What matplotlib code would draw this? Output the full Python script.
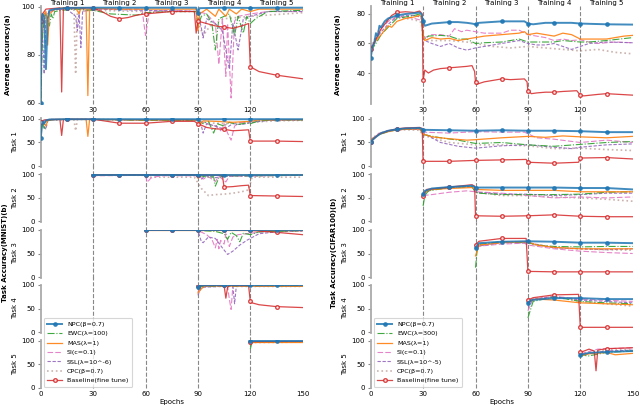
import matplotlib
matplotlib.use('Agg')
import matplotlib.pyplot as plt
import matplotlib.transforms as mtransforms
import numpy as np

# ---------------- MNIST (left column) ----------------
# each list: (epoch, accuracy)
mn_avg_npc = [(0,60),(0.5,93),(1,97),(2,96),(3,74),(4,95),(5,98.5),(8,99),(15,99.5),(30,99.6),(45,99.6),(60,99.6),(75,99.6),(89,99.6),(90,97.5),(91,99.4),(105,99.6),(120,99.5),(135,99.6),(150,99.6)]
mn_avg_ewc = [(0,57),(1,88),(2,94),(3,97),(5,92),(6,97),(7,95),(8,98),(12,98.5),(20,99),(30,98.5),(40,97),(55,96.5),(60,97.5),(75,98),(89,98),(90,92),(92,96),(95,97),(98,93),(100,82),(102,95),(108,97),(111,88),(113,96),(116,89),(118,96),(120,93),(123,95),(130,98),(150,98.5)]
mn_avg_mas = [(0,80),(1,95),(2,97),(3,98),(4,84),(5,97),(8,99),(12,99.5),(20,99.5),(22,97),(23,99.5),(26,99),(27,63),(28,99),(30,99.3),(45,99),(60,99),(75,99),(89,99),(90,90),(91,97),(95,99),(100,96),(102,99),(106,96),(108,99),(112,97),(115,99),(120,98),(125,99),(150,99)]
mn_avg_si = [(0,70),(1,93),(2,97),(5,98),(10,99),(30,99),(58,99),(60,88),(62,97),(64,98),(75,98.5),(90,98),(95,97),(100,93),(102,76),(104,95),(106,71),(107,93),(109,62),(111,94),(113,96),(120,97),(130,98),(150,98)]
mn_avg_ssl = [(0,75),(1,90),(2,72),(3,96),(5,98),(10,99),(15,99),(20,96),(21,90),(22,97),(23,83),(24,98),(30,99),(60,98.5),(90,98),(92,91),(93,87),(95,95),(100,93),(104,90),(108,74),(110,93),(113,82),(116,95),(120,96),(130,98),(150,98)]
mn_avg_cpc = [(0,80),(2,96),(5,98),(10,99),(19,99),(20,72),(21,98),(30,98.5),(60,98),(89,98),(91,92),(93,88),(97,92),(105,95),(120,96),(150,97.5)]
mn_avg_base = [(0,94),(1,97),(3,99),(11,99.5),(12,64.5),(13,99.5),(15,99.5),(30,99.5),(35,98),(40,96),(45,95),(50,95.5),(55,96.5),(60,97),(75,98),(88,98),(89,89),(90,94),(95,93),(100,92),(105,91.5),(110,91),(115,92),(119,93),(120,75),(125,73),(135,71.5),(150,70)]

mn_t1_npc = [(0,59),(1,95),(2,90),(3,97),(5,99),(15,99.5),(30,99.5),(45,99.5),(60,99.5),(75,99.5),(90,99.5),(105,99.5),(120,99.5),(135,99.5),(150,99.5)]
mn_t1_ewc = [(0,70),(1,93),(2,80),(3,96),(5,97),(10,99),(30,99),(60,97),(90,97),(93,90),(96,95),(99,70),(101,90),(105,85),(108,93),(113,88),(118,92),(120,90),(125,96),(135,98),(150,98)]
mn_t1_mas = [(0,75),(1,95),(3,85),(4,97),(6,99),(26,99),(27,63),(28,99),(30,99),(60,98),(90,98),(91,88),(93,96),(100,95),(110,93),(120,95),(125,98),(150,98.5)]
mn_t1_si = [(0,80),(2,96),(5,99),(30,99),(60,97.5),(90,97),(95,90),(100,85),(103,75),(105,90),(107,70),(109,55),(111,85),(114,92),(120,94),(130,97),(150,98)]
mn_t1_ssl = [(0,80),(1,92),(3,78),(4,96),(6,99),(30,99),(60,98),(90,97.5),(92,85),(93,70),(95,90),(100,85),(105,78),(110,90),(115,88),(120,92),(130,97),(150,98)]
mn_t1_cpc = [(0,85),(3,97),(19,99),(20,75),(21,99),(30,99),(60,98),(90,97),(95,92),(105,90),(120,93),(135,96),(150,97)]
mn_t1_base = [(0,93),(2,98),(11,99),(12,65),(13,99),(15,99.5),(30,99.5),(45,91),(60,91),(75,95),(88,95),(90,90),(95,82),(100,79),(105,78),(110,75),(115,76),(119,77),(120,53),(135,53),(150,52)]

mn_t2_npc = [(30,99.5),(45,99.5),(60,99.5),(75,99.5),(90,99.5),(105,99.5),(120,99.5),(135,99.5),(150,99.5)]
mn_t2_ewc = [(30,99),(60,99),(90,98.5),(95,94),(99,95),(100,75),(102,93),(105,97),(120,97),(150,98)]
mn_t2_mas = [(30,99),(60,99),(89,99),(90,92),(92,98),(150,99)]
mn_t2_si = [(30,92),(31,97),(60,98),(61,83),(63,92),(66,95),(70,97),(90,97),(93,90),(96,95),(100,85),(102,96),(106,84),(108,96),(150,98)]
mn_t2_ssl = [(30,99),(90,98.5),(92,90),(94,97),(100,93),(105,96),(150,98.5)]
mn_t2_cpc = [(30,99),(60,98),(62,94),(75,94),(88,94),(92,70),(96,55),(100,57),(105,58),(110,60),(115,63),(119,67),(121,94),(135,94),(150,94)]
mn_t2_base = [(30,99),(45,99),(60,99),(75,99),(90,99),(104,98),(105,73),(110,74),(115,76),(119,77),(120,55),(135,54),(150,53)]

mn_t3_npc = [(60,99.5),(75,99.5),(90,99.5),(105,99.5),(120,99.5),(135,99.5),(150,99.5)]
mn_t3_ewc = [(60,99),(90,99),(100,97),(105,92),(107,80),(109,95),(112,88),(114,75),(116,93),(120,90),(125,96),(150,98.5)]
mn_t3_mas = [(60,99),(90,99),(150,99)]
mn_t3_si = [(60,99),(90,99),(95,90),(98,80),(100,62),(101,80),(102,60),(103,78),(105,70),(106,92),(108,65),(110,85),(113,90),(120,93),(130,97),(150,98)]
mn_t3_ssl = [(60,99),(90,99),(92,75),(93,73),(96,85),(100,82),(104,62),(107,48),(110,55),(114,68),(118,78),(120,82),(125,92),(135,96),(150,98)]
mn_t3_cpc = [(60,99),(150,99)]
mn_t3_base = [(60,99.5),(75,99.5),(90,99.5),(105,99.3),(120,99),(135,95),(150,90)]

mn_t4_npc = [(90,95),(91,99),(105,99.5),(120,99.5),(135,99.5),(150,99.5)]
mn_t4_ewc = [(90,90),(92,97),(120,98),(150,98)]
mn_t4_mas = [(90,83),(92,92),(94,98),(150,97)]
mn_t4_si = [(90,85),(92,97),(107,97),(108,70),(109,48),(110,97),(150,98)]
mn_t4_ssl = [(90,78),(92,95),(110,98),(111,60),(112,98),(150,98)]
mn_t4_cpc = [(90,90),(93,97),(150,97)]
mn_t4_base = [(90,97),(92,99),(105,99),(106,72),(107,95),(108,99),(119,99),(120,65),(121,62),(125,58),(135,54),(150,52)]

mn_t5_npc = [(120,99.5),(135,99.5),(150,99.5)]
mn_t5_ewc = [(120,82),(121,97),(150,98)]
mn_t5_mas = [(120,97),(150,97)]
mn_t5_si = [(120,98),(150,98.5)]
mn_t5_ssl = [(120,97),(150,98)]
mn_t5_cpc = [(120,96),(150,97)]
mn_t5_base = [(120,98),(150,98.5)]

# ---------------- CIFAR100 (right column) ----------------
cf_avg_npc = [(0,50),(1,58),(2,60),(3,67),(4,65),(5,72),(6,71),(8,75),(10,77),(15,79),(20,80),(25,80.5),(28,81),(29,80),(30,75),(31,72),(35,73.5),(40,74),(45,74.5),(50,74.5),(55,74),(58,73.5),(60,73),(62,74),(75,75),(88,75),(90,73.5),(93,73),(100,74),(105,74),(115,74),(120,73.5),(135,73),(150,72.8)]
cf_avg_ewc = [(0,55),(3,60),(6,66),(10,71),(15,77),(20,78),(25,79),(28,80),(29,79),(30,66),(31,63),(33,65),(40,65.5),(45,65),(50,63),(55,63),(60,60),(65,60.5),(75,61),(85,63),(90,61),(95,61),(105,61),(110,62),(115,61.5),(120,61),(125,61),(135,62),(150,64)]
cf_avg_mas = [(0,56),(3,62),(6,66),(10,72),(12,71),(15,75),(20,77),(25,78),(28,79),(29,78),(30,65),(31,62),(35,64),(40,63),(45,63.5),(50,62),(55,63),(60,64),(65,65),(75,66),(85,67),(88,68),(90,66),(95,67),(100,66),(105,65),(110,67),(115,66),(120,63),(125,63),(135,63),(145,65),(150,65.5)]
cf_avg_si = [(0,55),(3,62),(6,70),(10,75),(15,78),(20,78),(25,77),(28,76),(29,75),(30,66),(31,64),(35,66),(40,66),(45,65),(48,70),(52,68),(55,69),(60,68),(65,67),(75,67),(80,69),(85,69),(90,66),(95,65),(100,64),(105,62),(110,63),(115,62),(120,62.5),(125,61),(130,60),(140,61),(150,60.5)]
cf_avg_ssl = [(0,57),(3,63),(6,68),(10,73),(15,78),(20,79),(25,79),(28,78),(29,77),(30,64),(31,62),(35,60),(40,58),(45,60),(50,57),(55,55.5),(60,57),(65,58),(75,60),(80,61),(85,62),(90,60),(95,59),(100,59),(105,60),(110,58),(115,56),(120,58),(125,60),(135,61),(150,60.5)]
cf_avg_cpc = [(0,57),(3,65),(6,72),(10,76),(15,78),(20,77),(25,76),(28,75),(29,74),(30,63),(35,62),(45,62),(55,61),(60,60),(70,58),(80,57),(90,58),(100,57),(110,56),(120,55),(130,56),(140,54),(150,53)]
cf_avg_base = [(0,56),(3,63),(6,70),(8,73),(10,76),(12,79),(15,81),(20,81.5),(25,81),(28,82),(29.5,80),(30,35),(31,42),(33,40),(36,42),(40,43),(45,43.5),(50,44),(55,44.5),(58,45),(59.5,41),(60,34),(61,32.5),(65,34),(70,35),(75,36),(80,35.5),(88,36),(89.5,34),(90,28),(92,26),(95,26.5),(100,27),(105,27),(110,27.5),(118,28),(120,25),(122,24.5),(130,25.5),(135,26),(150,25)]

cf_t1_npc = [(0,52),(3,62),(6,70),(10,75),(15,78),(20,80),(25,80.5),(28,81),(30,77),(45,76),(60,75),(75,76),(90,75),(105,75),(120,74),(135,72),(150,72)]
cf_t1_ewc = [(0,55),(5,67),(10,73),(15,77),(20,79),(28,80),(30,67),(40,60),(50,55),(60,48),(75,50),(90,45),(105,42),(120,46),(135,50),(150,52)]
cf_t1_mas = [(0,55),(5,68),(10,73),(15,77),(20,78),(28,79),(30,68),(35,62),(45,58),(55,55),(60,56),(75,60),(90,63),(100,61),(110,64),(120,62),(135,60),(150,63)]
cf_t1_si = [(0,56),(5,70),(10,75),(15,77),(20,78),(28,78),(30,72),(45,70),(60,73),(75,72),(88,72),(95,60),(105,57),(120,50),(135,55),(150,50)]
cf_t1_ssl = [(0,56),(5,68),(10,74),(15,77),(20,78),(28,78),(30,70),(40,50),(50,42),(60,38),(75,43),(90,45),(105,40),(115,37),(120,40),(135,45),(150,47)]
cf_t1_cpc = [(0,57),(5,70),(10,75),(20,77),(28,76),(30,65),(45,50),(60,45),(75,45),(90,43),(105,37),(120,38),(135,35),(150,33)]
cf_t1_base = [(0,52),(5,68),(10,75),(15,79),(20,81),(28,82),(29.5,80),(30,10),(45,10),(60,12),(75,13),(89,14),(90,8),(105,6),(119,8),(120,17),(135,18),(150,15)]

cf_t2_npc = [(30,58),(31,65),(35,70),(45,73),(58,76),(60,72),(75,72),(90,72),(105,72),(120,71),(135,71),(150,68)]
cf_t2_ewc = [(30,33),(31,55),(33,65),(45,72),(58,74),(60,62),(62,60),(75,57),(90,57),(105,57),(120,58),(135,62),(150,63)]
cf_t2_mas = [(30,52),(32,65),(35,68),(45,70),(58,72),(60,68),(75,66),(90,66),(105,66),(120,63),(135,63),(150,63)]
cf_t2_si = [(30,55),(35,57),(45,62),(55,65),(60,63),(75,60),(90,55),(105,50),(120,52),(135,50),(150,52)]
cf_t2_ssl = [(30,60),(35,68),(45,72),(58,74),(60,62),(75,58),(90,58),(105,55),(120,57),(135,60),(150,60)]
cf_t2_cpc = [(30,60),(35,67),(45,72),(58,74),(60,62),(75,55),(90,55),(105,52),(120,50),(135,47),(150,43)]
cf_t2_base = [(30,55),(32,68),(45,73),(58,78),(59.5,75),(60,12),(75,11),(90,12),(105,14),(120,11),(135,10),(150,10)]

cf_t3_npc = [(60,62),(62,72),(75,75),(89,76),(90,76),(105,75),(120,73),(135,73),(150,72)]
cf_t3_ewc = [(60,20),(61,60),(63,70),(75,75),(90,73),(95,68),(105,65),(120,64),(135,65),(150,65)]
cf_t3_mas = [(60,45),(62,68),(75,73),(90,75),(95,68),(105,63),(120,60),(135,60),(150,60)]
cf_t3_si = [(60,65),(75,70),(88,72),(90,68),(105,60),(120,55),(135,52),(150,50)]
cf_t3_ssl = [(60,65),(75,73),(90,73),(105,62),(120,60),(135,58),(150,60)]
cf_t3_cpc = [(60,65),(75,75),(90,72),(105,63),(120,60),(135,58),(150,57)]
cf_t3_base = [(60,68),(62,76),(75,82),(89,82),(90,12),(105,11),(120,11),(135,11),(150,11)]

cf_t4_npc = [(90,62),(92,68),(105,72),(120,72),(135,70),(150,70)]
cf_t4_ewc = [(90,30),(93,65),(105,75),(120,65),(135,62),(150,60)]
cf_t4_mas = [(90,65),(95,70),(105,68),(120,62),(135,60),(150,58)]
cf_t4_si = [(90,45),(93,70),(105,76),(120,70),(150,65)]
cf_t4_ssl = [(90,55),(93,70),(105,75),(120,68),(150,62)]
cf_t4_cpc = [(90,70),(105,75),(120,65),(150,55)]
cf_t4_base = [(90,68),(93,73),(105,79),(119,80),(120,10),(135,10),(150,10)]

cf_t5_npc = [(120,70),(125,74),(135,76),(150,78)]
cf_t5_ewc = [(120,65),(122,70),(124,67),(135,75),(150,78)]
cf_t5_mas = [(120,68),(125,72),(135,75),(140,70),(150,73)]
cf_t5_si = [(120,72),(130,82),(150,85)]
cf_t5_ssl = [(120,70),(135,78),(150,80)]
cf_t5_cpc = [(120,73),(135,80),(150,82)]
cf_t5_base = [(120,75),(125,82),(128,78),(129,36),(130,80),(135,83),(150,85)]

labels_mnist = ['NPC(β=0.7)', 'EWC(λ=100)', 'MAS(λ=1)', 'SI(c=0.1)',
                'SSL(λ=10^-6)', 'CPC(β=0.7)', 'Baseline(fine tune)']
labels_cifar = ['NPC(β=0.7)', 'EWC(λ=300)', 'MAS(λ=1)', 'SI(c=0.1)',
                'SSL(λ=10^-5)', 'CPC(β=0.7)', 'Baseline(fine tune)']
phases = ['Training 1', 'Training 2', 'Training 3', 'Training 4', 'Training 5']

mnist = [
    [mn_avg_npc, mn_avg_ewc, mn_avg_mas, mn_avg_si, mn_avg_ssl, mn_avg_cpc, mn_avg_base],
    [mn_t1_npc, mn_t1_ewc, mn_t1_mas, mn_t1_si, mn_t1_ssl, mn_t1_cpc, mn_t1_base],
    [mn_t2_npc, mn_t2_ewc, mn_t2_mas, mn_t2_si, mn_t2_ssl, mn_t2_cpc, mn_t2_base],
    [mn_t3_npc, mn_t3_ewc, mn_t3_mas, mn_t3_si, mn_t3_ssl, mn_t3_cpc, mn_t3_base],
    [mn_t4_npc, mn_t4_ewc, mn_t4_mas, mn_t4_si, mn_t4_ssl, mn_t4_cpc, mn_t4_base],
    [mn_t5_npc, mn_t5_ewc, mn_t5_mas, mn_t5_si, mn_t5_ssl, mn_t5_cpc, mn_t5_base],
]
cifar = [
    [cf_avg_npc, cf_avg_ewc, cf_avg_mas, cf_avg_si, cf_avg_ssl, cf_avg_cpc, cf_avg_base],
    [cf_t1_npc, cf_t1_ewc, cf_t1_mas, cf_t1_si, cf_t1_ssl, cf_t1_cpc, cf_t1_base],
    [cf_t2_npc, cf_t2_ewc, cf_t2_mas, cf_t2_si, cf_t2_ssl, cf_t2_cpc, cf_t2_base],
    [cf_t3_npc, cf_t3_ewc, cf_t3_mas, cf_t3_si, cf_t3_ssl, cf_t3_cpc, cf_t3_base],
    [cf_t4_npc, cf_t4_ewc, cf_t4_mas, cf_t4_si, cf_t4_ssl, cf_t4_cpc, cf_t4_base],
    [cf_t5_npc, cf_t5_ewc, cf_t5_mas, cf_t5_si, cf_t5_ssl, cf_t5_cpc, cf_t5_base],
]

STYLES = [
    dict(color='#1f77b4', ls='-', lw=1.4, marker='o', ms=2.4, alpha=0.85, zorder=6),
    dict(color='#2ca02c', ls='-.', lw=0.8, alpha=0.9, zorder=4),
    dict(color='#ff7f0e', ls='-', lw=0.9, alpha=0.9, zorder=4),
    dict(color='#e377c2', ls=(0, (5, 2)), lw=0.8, alpha=0.9, zorder=3),
    dict(color='#9467bd', ls=(0, (3, 1.5)), lw=0.8, alpha=0.9, zorder=3),
    dict(color='#8c564b', ls=':', lw=1.2, alpha=0.45, zorder=2),
    dict(color='#d62728', ls='-', lw=0.9, marker='o', ms=2.6, mfc='white', alpha=0.85, zorder=5),
]

FS = 5
W, H = 640, 405
fig = plt.figure(figsize=(6.4, 4.05), dpi=100)


def box(x0, top, w, h):
    return [x0 / W, 1 - (top + h) / H, w / W, h / H]


def draw_column(x0, data, labels, ylim_avg, yticks_avg):
    axes = []
    ax = fig.add_axes(box(x0, 6, 262, 98))
    axes.append(ax)
    tops = [118.5, 173.9, 229.5, 284.5, 340.2]
    for t in tops:
        axes.append(fig.add_axes(box(x0, t, 262, 48)))

    for i, ax in enumerate(axes):
        for pts, lab, st in zip(data[i], labels, STYLES):
            x = np.array([p[0] for p in pts], dtype=float)
            y = np.array([p[1] for p in pts], dtype=float)
            kw = dict(st)
            if 'marker' in kw:
                kw['markevery'] = list((x % 15 == 0) & (x < 150))
            ax.plot(x, y, label=lab, **kw)
        ax.set_xlim(0, 150)
        for s in ['top', 'right', 'bottom']:
            ax.spines[s].set_visible(False)
        ax.spines['left'].set_color('#aaaaaa')
        ax.spines['left'].set_linewidth(1.3)
        ax.tick_params(axis='y', length=2.5, width=0.8, color='#888888', pad=1.5, labelsize=FS)
        ax.tick_params(axis='x', length=0, pad=2, labelsize=FS)
        ext = 1.0 if i == 0 else (1 + 8 / 48 if i == 1 else 1 + 7.6 / 48)
        for v in [30, 60, 90, 120]:
            ax.axvline(v, ymin=0, ymax=ext, color='#888888', ls='--', lw=0.8,
                       clip_on=False, zorder=1)
        if i == 0:
            ax.set_ylim(*ylim_avg)
            ax.set_yticks(yticks_avg)
            ax.set_xticks([30, 60, 90, 120])
            tr = mtransforms.blended_transform_factory(ax.transData, fig.transFigure)
            for k, name in enumerate(phases):
                ax.text(15 + 30 * k, 1 - 0.5 / H, name, transform=tr,
                        ha='center', va='top', fontsize=FS)
        else:
            ax.set_ylim(-1, 101)
            ax.set_yticks([0, 50, 100])
            ax.set_ylabel('Task %d' % i, fontsize=FS, labelpad=2.5)
            if i < 5:
                ax.set_xticks([])
            else:
                ax.set_xticks([0, 30, 60, 90, 120, 150])
                ax.set_xlabel('Epochs', fontsize=FS, labelpad=1.5)
    leg = axes[5].legend(loc='lower left', bbox_to_anchor=((x0 + 3) / W, 1 - 387 / H),
                         bbox_transform=fig.transFigure, fontsize=4.6, handlelength=2.3,
                         labelspacing=0.62, borderpad=0.55, handletextpad=0.8,
                         borderaxespad=0, frameon=True, fancybox=True)
    leg.get_frame().set_edgecolor('#cccccc')
    leg.get_frame().set_linewidth(0.8)
    return axes


draw_column(40.7, mnist, labels_mnist, (59.5, 100.3), [60, 80, 100])
draw_column(370.7, cifar, labels_cifar, (19, 85.4), [40, 60, 80])

for xp, yp, txt in [(8, 55, 'Average accuracy(a)'),
                    (5, 253, 'Task Accuracy(MNIST)(b)'),
                    (338, 55, 'Average accuracy(a)'),
                    (334, 253, 'Task Accuracy(CIFAR100)(b)')]:
    fig.text(xp / W, 1 - yp / H, txt, rotation=90, ha='center', va='center',
             fontsize=FS, fontweight='bold')

fig.savefig('out.png', dpi=100)
